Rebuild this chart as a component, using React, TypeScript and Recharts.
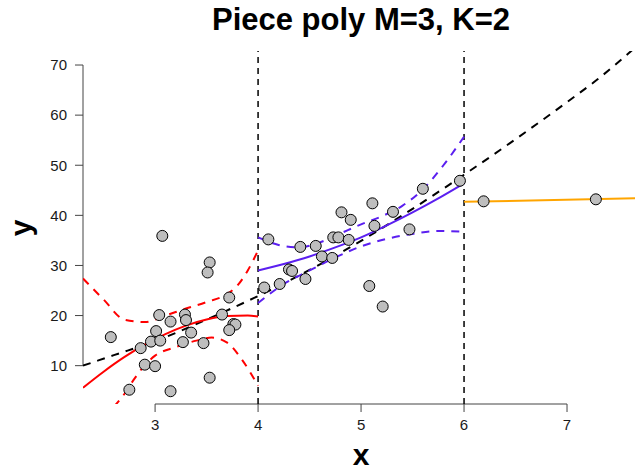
import React from "react";
import {
  ComposedChart,
  Line,
  Scatter,
  XAxis,
  YAxis,
  ReferenceLine
} from "recharts";

// observations, split by knot interval
const leftPoints = [
  { x: 3.07, y: 35.9 }, { x: 3.53, y: 30.6 }, { x: 3.51, y: 28.6 }, { x: 3.72, y: 23.6 },
  { x: 2.57, y: 15.7 }, { x: 3.04, y: 20.1 }, { x: 3.15, y: 18.8 }, { x: 3.29, y: 20.2 },
  { x: 3.30, y: 19.1 }, { x: 3.65, y: 20.2 }, { x: 3.01, y: 16.9 }, { x: 2.96, y: 14.8 },
  { x: 3.05, y: 15.0 }, { x: 3.35, y: 16.6 }, { x: 3.27, y: 14.7 }, { x: 3.47, y: 14.5 },
  { x: 3.76, y: 18.3 }, { x: 3.78, y: 18.2 }, { x: 3.72, y: 17.1 }, { x: 2.86, y: 13.5 },
  { x: 2.90, y: 10.2 }, { x: 3.00, y: 9.9 }, { x: 3.53, y: 7.6 }, { x: 2.75, y: 5.2 },
  { x: 3.15, y: 4.9 }
];
const midPoints = [
  { x: 4.10, y: 35.2 }, { x: 4.06, y: 25.6 }, { x: 4.21, y: 26.3 }, { x: 4.30, y: 29.2 },
  { x: 4.33, y: 28.9 }, { x: 4.46, y: 27.3 }, { x: 4.41, y: 33.7 }, { x: 4.56, y: 33.9 },
  { x: 4.62, y: 31.8 }, { x: 4.72, y: 31.5 }, { x: 4.73, y: 35.6 }, { x: 4.78, y: 35.6 },
  { x: 4.88, y: 35.1 }, { x: 4.81, y: 40.6 }, { x: 4.90, y: 39.1 }, { x: 5.11, y: 42.4 },
  { x: 5.13, y: 37.9 }, { x: 5.31, y: 40.7 }, { x: 5.47, y: 37.2 }, { x: 5.60, y: 45.3 },
  { x: 5.96, y: 46.9 }, { x: 5.08, y: 25.9 }, { x: 5.21, y: 21.8 }
];
const rightPoints = [
  { x: 6.19, y: 42.8 }, { x: 7.28, y: 43.2 }
];

// fitted curves
const globalFit = [
  { x: 2.3, y: 10.0 }, { x: 2.6, y: 12.1 }, { x: 3.0, y: 14.9 }, { x: 3.5, y: 19.2 },
  { x: 4.0, y: 23.9 }, { x: 4.5, y: 29.1 }, { x: 5.0, y: 34.9 }, { x: 5.5, y: 41.3 },
  { x: 6.0, y: 48.1 }, { x: 6.5, y: 55.2 }, { x: 7.0, y: 62.6 }, { x: 7.3, y: 67.2 },
  { x: 7.7, y: 74.2 }
];
const redFit = [
  { x: 2.3, y: 5.6 }, { x: 2.5, y: 8.8 }, { x: 2.7, y: 11.7 }, { x: 2.9, y: 14.2 },
  { x: 3.1, y: 16.3 }, { x: 3.3, y: 18.0 }, { x: 3.5, y: 19.2 }, { x: 3.7, y: 19.9 },
  { x: 3.9, y: 20.0 }, { x: 4.0, y: 19.8 }
];
const redUpper = [
  { x: 2.3, y: 27.4 }, { x: 2.5, y: 23.2 }, { x: 2.7, y: 19.2 }, { x: 2.9, y: 18.7 },
  { x: 3.1, y: 20.0 }, { x: 3.3, y: 21.4 }, { x: 3.5, y: 22.7 }, { x: 3.7, y: 24.3 },
  { x: 3.8, y: 26.0 }, { x: 3.9, y: 29.0 }, { x: 4.0, y: 33.0 }
];
const redLower = [
  { x: 2.6, y: 1.8 }, { x: 2.7, y: 4.3 }, { x: 2.8, y: 7.4 }, { x: 2.9, y: 10.1 },
  { x: 3.0, y: 12.0 }, { x: 3.2, y: 13.7 }, { x: 3.4, y: 15.0 }, { x: 3.55, y: 15.6 },
  { x: 3.7, y: 14.6 }, { x: 3.85, y: 11.0 }, { x: 4.0, y: 6.0 }
];
const blueFit = [
  { x: 4.0, y: 29.0 }, { x: 4.25, y: 30.3 }, { x: 4.5, y: 31.8 }, { x: 4.75, y: 33.6 },
  { x: 5.0, y: 35.6 }, { x: 5.25, y: 38.0 }, { x: 5.5, y: 40.6 }, { x: 5.75, y: 43.4 },
  { x: 6.0, y: 46.4 }
];
const blueUpper = [
  { x: 4.0, y: 35.6 }, { x: 4.2, y: 34.1 }, { x: 4.4, y: 33.6 }, { x: 4.6, y: 34.6 },
  { x: 4.8, y: 36.4 }, { x: 5.0, y: 38.2 }, { x: 5.2, y: 39.8 }, { x: 5.4, y: 41.9 },
  { x: 5.6, y: 45.2 }, { x: 5.8, y: 50.0 }, { x: 6.0, y: 55.7 }
];
const blueLower = [
  { x: 4.0, y: 22.5 }, { x: 4.25, y: 26.3 }, { x: 4.5, y: 29.0 }, { x: 4.75, y: 31.6 },
  { x: 5.0, y: 33.8 }, { x: 5.25, y: 35.3 }, { x: 5.5, y: 36.3 }, { x: 5.75, y: 36.9 },
  { x: 6.0, y: 36.7 }
];
const orangeFit = [
  { x: 6.0, y: 42.7 }, { x: 7.66, y: 43.4 }
];

const xTicks = [3, 4, 5, 6, 7];
const yTicks = [10, 20, 30, 40, 50, 60, 70];
const knots = [4, 6];

const xDomain = [2.3, 7.66];
const yDomain = [2.35, 72.8];

const font = "'Liberation Sans', Arial, Helvetica, sans-serif";
const tickStyle = { fontSize: 15, fill: "#1a1a1a", fontFamily: font };
const blue = "#5b1ff0";

const dot = (props: any) => (
  <circle cx={props.cx} cy={props.cy} r={5.5} fill="#bebebe" stroke="#000" strokeWidth={1} />
);

export default function App() {
  const allPoints = [...leftPoints, ...midPoints, ...rightPoints];

  return (
    <div style={{ position: "relative", width: 635, height: 470, background: "#fff" }}>
      <style>{"body{margin:0}"}</style>
      <div
        style={{
          position: "absolute", left: 0, width: 722, top: 4, textAlign: "center",
          fontFamily: font, fontWeight: "bold", fontSize: 31, lineHeight: "32px", color: "#000"
        }}
      >
        Piece poly M=3, K=2
      </div>
      <div
        style={{
          position: "absolute", left: 361 - 20, width: 40, top: 441, textAlign: "center",
          fontFamily: font, fontWeight: "bold", fontSize: 30, lineHeight: "28px", color: "#000"
        }}
      >
        x
      </div>
      <div
        style={{
          position: "absolute", left: 21 - 20, top: 228 - 15, width: 40, textAlign: "center",
          transform: "rotate(-90deg)", fontFamily: font, fontWeight: "bold", fontSize: 30,
          lineHeight: "30px", color: "#000"
        }}
      >
        y
      </div>
      <ComposedChart
        width={635}
        height={470}
        margin={{ top: 51, right: 0, bottom: 0, left: 0 }}
        style={{ position: "absolute", left: 0, top: 0 }}
      >
        <XAxis
          type="number"
          dataKey="x"
          domain={xDomain}
          ticks={xTicks}
          allowDataOverflow
          height={66}
          axisLine={false}
          tickSize={8}
          tickMargin={7}
          tickLine={{ stroke: "#444" }}
          tick={tickStyle}
        />
        <YAxis
          type="number"
          dataKey="y"
          domain={yDomain}
          ticks={yTicks}
          allowDataOverflow
          width={83}
          axisLine={false}
          tickSize={8}
          tickMargin={8}
          tickLine={{ stroke: "#444" }}
          tick={tickStyle}
        />
        <ReferenceLine
          segment={[{ x: xTicks[0], y: yDomain[0] }, { x: xTicks[xTicks.length - 1], y: yDomain[0] }]}
          stroke="#444"
          ifOverflow="visible"
        />
        <ReferenceLine
          segment={[{ x: xDomain[0], y: yTicks[0] }, { x: xDomain[0], y: yTicks[yTicks.length - 1] }]}
          stroke="#444"
          ifOverflow="visible"
        />
        {knots.map((k) => (
          <ReferenceLine key={k} x={k} stroke="#000" strokeWidth={1.5} strokeDasharray="6 5" />
        ))}
        <Line data={globalFit} dataKey="y" type="monotone" stroke="#000" strokeWidth={2}
          strokeDasharray="8 7" dot={false} isAnimationActive={false} />
        <Line data={redUpper} dataKey="y" type="monotone" stroke="#ff0000" strokeWidth={2}
          strokeDasharray="8 7" dot={false} isAnimationActive={false} />
        <Line data={redLower} dataKey="y" type="monotone" stroke="#ff0000" strokeWidth={2}
          strokeDasharray="8 7" dot={false} isAnimationActive={false} />
        <Line data={redFit} dataKey="y" type="monotone" stroke="#ff0000" strokeWidth={2}
          dot={false} isAnimationActive={false} />
        <Line data={blueUpper} dataKey="y" type="monotone" stroke={blue} strokeWidth={2}
          strokeDasharray="8 7" dot={false} isAnimationActive={false} />
        <Line data={blueLower} dataKey="y" type="monotone" stroke={blue} strokeWidth={2}
          strokeDasharray="8 7" dot={false} isAnimationActive={false} />
        <Line data={blueFit} dataKey="y" type="monotone" stroke={blue} strokeWidth={2}
          dot={false} isAnimationActive={false} />
        <Line data={orangeFit} dataKey="y" type="linear" stroke="#ffa500" strokeWidth={2}
          dot={false} isAnimationActive={false} />
        <Scatter data={allPoints} dataKey="y" shape={dot} isAnimationActive={false} />
      </ComposedChart>
    </div>
  );
}
